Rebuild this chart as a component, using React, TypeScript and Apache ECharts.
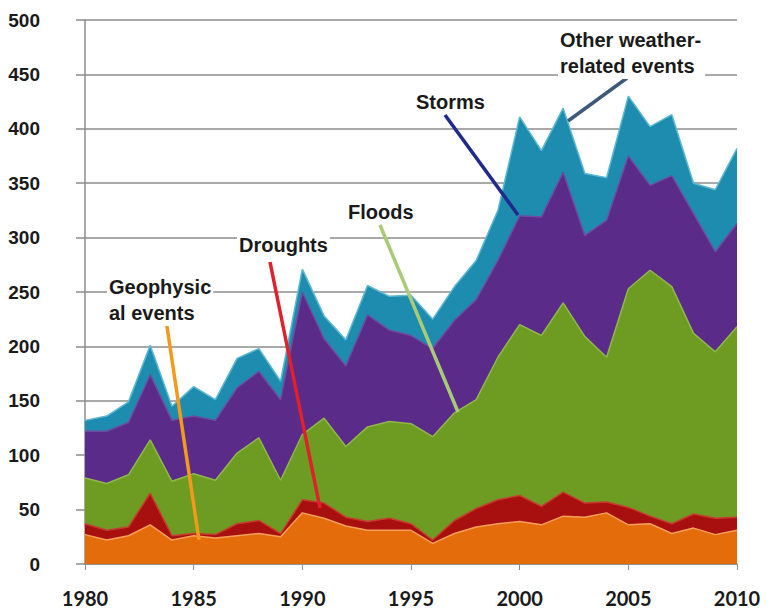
import React, { useEffect, useRef } from "react";
import * as echarts from "echarts";

const years = [
  "1980", "1981", "1982", "1983", "1984", "1985", "1986", "1987", "1988", "1989",
  "1990", "1991", "1992", "1993", "1994", "1995", "1996", "1997", "1998", "1999",
  "2000", "2001", "2002", "2003", "2004", "2005", "2006", "2007", "2008", "2009", "2010",
];

const geophysical = [27, 22, 26, 36, 22, 26, 24, 26, 28, 25, 47, 42, 35, 31, 31, 31, 19, 28, 34, 37, 39, 36, 44, 43, 47, 36, 37, 28, 33, 27, 31];
const droughts = [10, 9, 8, 29, 4, 2, 3, 11, 12, 3, 12, 14, 8, 8, 11, 6, 3, 12, 17, 22, 24, 17, 22, 13, 10, 16, 7, 9, 13, 15, 12];
const floods = [42, 43, 48, 49, 50, 55, 50, 65, 76, 49, 60, 78, 65, 87, 89, 92, 95, 99, 100, 131, 157, 157, 174, 153, 133, 201, 226, 218, 166, 153, 175];
const storms = [43, 48, 48, 60, 56, 53, 55, 60, 61, 74, 131, 73, 74, 103, 84, 81, 81, 85, 92, 89, 100, 109, 120, 93, 126, 122, 78, 102, 110, 92, 95];
const otherWeather = [10, 14, 19, 27, 13, 27, 19, 27, 21, 17, 21, 21, 24, 27, 31, 37, 27, 31, 36, 46, 91, 61, 59, 57, 39, 55, 54, 56, 28, 57, 69];

const seriesNames = ["Geophysical events", "Droughts", "Floods", "Storms", "Other weather-related events"];
const seriesData = [geophysical, droughts, floods, storms, otherWeather];
const fillColors = ["#E46C0A", "#A8100F", "#6E9B21", "#5A2B88", "#1E8CAE"];
const edgeColors = ["#F5A05A", "#C83A30", "#8FB84A", "#6E4AA0", "#5BB8D4"];

export default function App() {
  const ref = useRef<HTMLDivElement>(null);

  useEffect(() => {
    if (!ref.current) return;
    const chart = echarts.init(ref.current, undefined, { renderer: "svg" });
    const labelFont = {
      fontFamily: "Liberation Sans",
      fontWeight: "bold" as const,
      fontSize: 20,
      fill: "#1a1a1a",
      backgroundColor: "#ffffff",
    };
    chart.setOption({
      animation: false,
      backgroundColor: "#ffffff",
      grid: { left: 85, right: 31, top: 20, bottom: 50 },
      xAxis: {
        type: "category",
        data: years,
        boundaryGap: false,
        axisLine: { show: true, lineStyle: { color: "#8c8c8c", width: 1.5 } },
        axisTick: { show: true, interval: 4, length: 6, lineStyle: { color: "#8c8c8c" } },
        axisLabel: {
          interval: 4,
          margin: 24,
          fontFamily: "Lato",
          fontWeight: "bold",
          fontSize: 20,
          color: "#1a1a1a",
        },
        splitLine: { show: false },
      },
      yAxis: {
        type: "value",
        min: 0,
        max: 500,
        interval: 50,
        axisLine: { show: true, lineStyle: { color: "#8c8c8c", width: 1.5 } },
        axisTick: { show: true, length: 9, lineStyle: { color: "#8c8c8c", width: 1.5 } },
        axisLabel: {
          margin: 45,
          fontFamily: "Liberation Sans",
          fontWeight: "bold",
          fontSize: 19,
          color: "#1a1a1a",
        },
        splitLine: { show: true, lineStyle: { color: "#8c8c8c", width: 1.5 } },
      },
      series: seriesData.map((d, i) => ({
        name: seriesNames[i],
        type: "line",
        stack: "total",
        data: d,
        symbol: "none",
        smooth: false,
        lineStyle: { color: edgeColors[i], width: 1.5 },
        areaStyle: { color: fillColors[i], opacity: 1 },
        z: 2,
      })),
      graphic: [
        // leader lines
        { type: "line", z: 100, shape: { x1: 166, y1: 320, x2: 199, y2: 540 }, style: { stroke: "#F39A1E", lineWidth: 3.5 } },
        { type: "line", z: 100, shape: { x1: 270, y1: 262, x2: 320, y2: 508 }, style: { stroke: "#E0202A", lineWidth: 3.5 } },
        { type: "line", z: 100, shape: { x1: 380, y1: 225, x2: 458, y2: 412 }, style: { stroke: "#A9CA76", lineWidth: 3.5 } },
        { type: "line", z: 100, shape: { x1: 445, y1: 115, x2: 518, y2: 215 }, style: { stroke: "#1F2A8C", lineWidth: 3.5 } },
        { type: "line", z: 100, shape: { x1: 627, y1: 78, x2: 568, y2: 121 }, style: { stroke: "#3F5A78", lineWidth: 3.5 } },
        // labels
        { type: "text", z: 101, x: 107, y: 274, style: { ...labelFont, text: "Geophysic\nal events", lineHeight: 26, padding: [0, 2, 0, 2] } },
        { type: "text", z: 101, x: 237, y: 235, style: { ...labelFont, text: "Droughts", padding: [0, 2, 0, 2] } },
        { type: "text", z: 101, x: 346, y: 202, style: { ...labelFont, text: "Floods", padding: [0, 2, 0, 2] } },
        { type: "text", z: 101, x: 414, y: 92, style: { ...labelFont, text: "Storms", padding: [0, 2, 0, 2] } },
        { type: "text", z: 101, x: 558, y: 27, style: { ...labelFont, text: "Other weather-\nrelated events", lineHeight: 26, padding: [0, 4, 0, 2] } },
      ],
    });
    return () => chart.dispose();
  }, []);

  return (
    <div
      ref={ref}
      style={{ position: "fixed", left: 0, top: 0, width: 768, height: 614, background: "#fff" }}
    />
  );
}
